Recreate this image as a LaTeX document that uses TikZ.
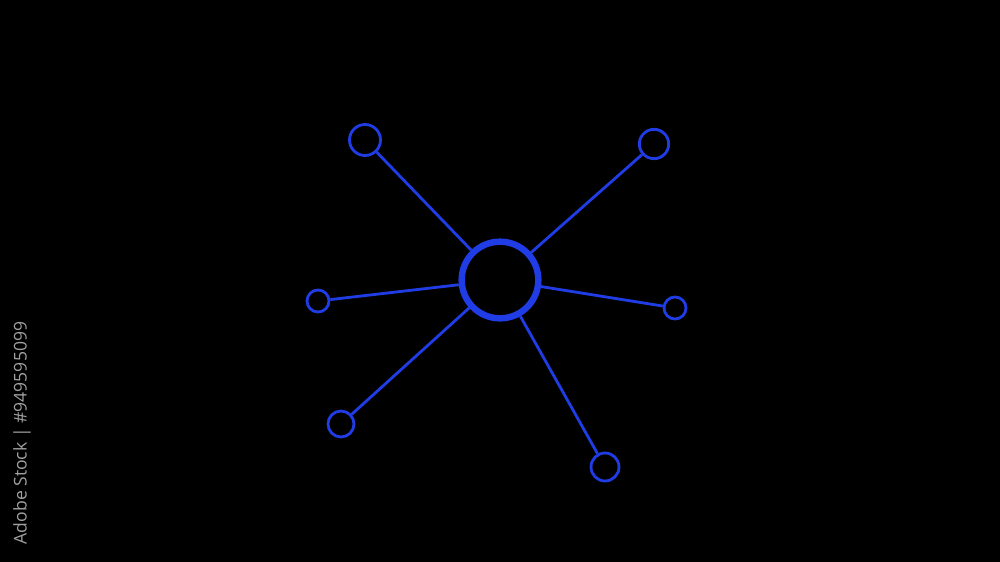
\documentclass[tikz,border=0pt]{standalone}
\usepackage{fontspec}
\newfontfamily\wmfont{Open Sans}
\definecolor{netblue}{RGB}{32,60,228}
\definecolor{wmgray}{RGB}{160,160,160}
\begin{document}
\begin{tikzpicture}[x=0.03cm,y=-0.03cm,
  hub/.style={circle,draw=netblue,line width=5.5pt,minimum size=2.3cm,inner sep=0pt},
  leaf/.style={circle,draw=netblue,line width=2.4pt,inner sep=0pt},
  link/.style={draw=netblue,line width=2.4pt}]
\fill[black] (0,0) rectangle (1000,562);
\useasboundingbox (0,0) rectangle (1000,562);
\node[hub] (c) at (500,280) {};
\node[leaf,minimum size=0.93cm] (a) at (365,140) {};
\node[leaf,minimum size=0.88cm] (b) at (654,144) {};
\node[leaf,minimum size=0.66cm] (d) at (318,301) {};
\node[leaf,minimum size=0.66cm] (e) at (675,308) {};
\node[leaf,minimum size=0.78cm] (f) at (341,424) {};
\node[leaf,minimum size=0.84cm] (g) at (605,467) {};
\foreach \n in {a,b,d,e,f,g} \draw[link] (c) -- (\n);
\node[rotate=90,text=wmgray,font=\wmfont\fontsize{15}{17}\selectfont,anchor=center] (wm) at (22,433) {Adobe Stock | \#949595099};
\end{tikzpicture}
\end{document}
